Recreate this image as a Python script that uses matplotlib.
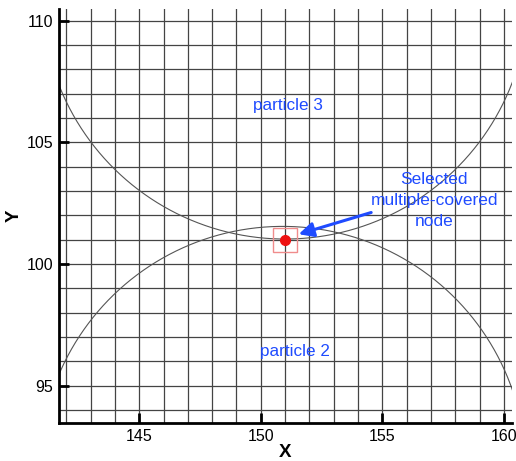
import numpy as np
import matplotlib.pyplot as plt
from matplotlib.patches import Rectangle

plt.rcParams['font.family'] = ['Liberation Sans', 'DejaVu Sans']

# mesh nodes (unit spacing) and the two particle boundaries
grid_x = np.arange(142, 161)
grid_y = np.arange(94, 111)

p3_center = (151.0, 111.03)
p2_center = (150.9, 91.55)
p_radius = 10.0

node = (151.0, 101.0)
node_box = 1.0

xticks = [145, 150, 155, 160]
yticks = [95, 100, 105, 110]

blue = '#1f4bff'

fig = plt.figure(figsize=(5.16, 4.61), dpi=100)
ax = fig.add_axes([0.1143, 0.0824, 0.8774, 0.8974])

for gx in grid_x:
    ax.axvline(gx, color='#444444', lw=0.9, zorder=1)
for gy in grid_y:
    ax.axhline(gy, color='#444444', lw=0.9, zorder=1)

t = np.linspace(0, 2 * np.pi, 1000)
for cx, cy in (p3_center, p2_center):
    ax.plot(cx + p_radius * np.cos(t), cy + p_radius * np.sin(t),
            color='#555555', lw=0.8, zorder=2)

ax.add_patch(Rectangle((node[0] - node_box / 2, node[1] - node_box / 2),
                       node_box, node_box, fill=False,
                       edgecolor='#f08c8c', lw=1.0, zorder=3))
ax.plot(*node, 'o', color='#ee1111', ms=7, zorder=4)

ax.annotate('', xy=(151.56, 101.23), xytext=(154.54, 102.12),
            arrowprops=dict(arrowstyle='-|>', color=blue, lw=2.2,
                            mutation_scale=22, shrinkA=0, shrinkB=0),
            zorder=5)
ax.text(157.14, 102.63, 'Selected\nmultiple-covered\nnode', color=blue,
        fontsize=12.5, ha='center', va='center', linespacing=1.5, zorder=6)
ax.text(151.1, 106.53, 'particle 3', color=blue, fontsize=12.3,
        ha='center', va='center', zorder=6)
ax.text(151.4, 96.42, 'particle 2', color=blue, fontsize=12.3,
        ha='center', va='center', zorder=6)

ax.set_xlim(141.70, 160.32)
ax.set_ylim(93.47, 110.47)
ax.set_xticks(xticks)
ax.set_yticks(yticks)
ax.tick_params(direction='in', length=7, width=2, labelsize=11.5, pad=4)

for side in ('top', 'right'):
    ax.spines[side].set_visible(False)
for side in ('left', 'bottom'):
    ax.spines[side].set_linewidth(2)
    ax.spines[side].set_zorder(7)

ax.set_xlabel('X', fontsize=13.5, fontweight='bold', labelpad=0)
ax.set_ylabel('Y', fontsize=13.5, fontweight='bold', labelpad=3)

fig.savefig('out.png', dpi=100)
